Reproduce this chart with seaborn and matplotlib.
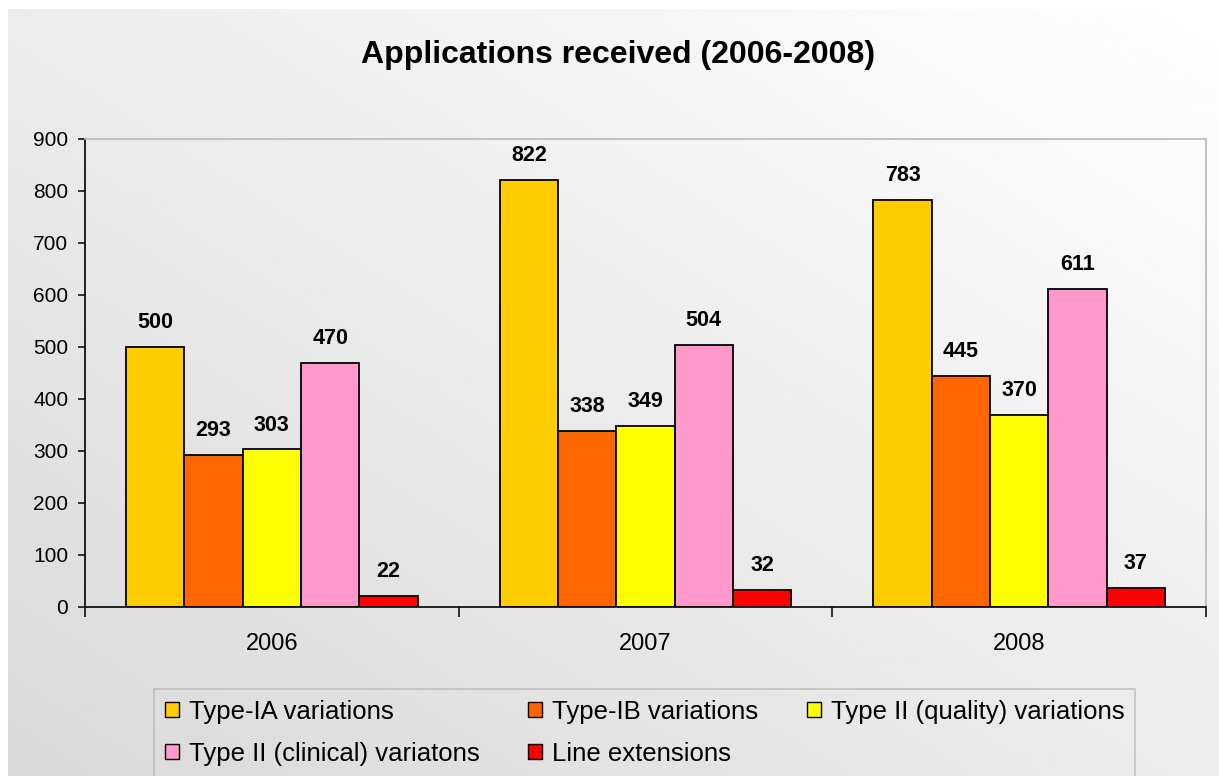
import numpy as np
import pandas as pd
import matplotlib
matplotlib.use("Agg")
import matplotlib.pyplot as plt
from matplotlib.patches import Patch
import seaborn as sns

# Data
years = ["2006", "2007", "2008"]
series = ["Type-IA variations", "Type-IB variations", "Type II (quality) variations",
          "Type II (clinical) variatons", "Line extensions"]
type_ia = [500, 822, 783]
type_ib = [293, 338, 445]
type_ii_quality = [303, 349, 370]
type_ii_clinical = [470, 504, 611]
line_extensions = [22, 32, 37]
colors = ["#FFCC00", "#FF6600", "#FFFF00", "#FF99CC", "#FF0000"]

values = [type_ia, type_ib, type_ii_quality, type_ii_clinical, line_extensions]
rows = [(y, s, v[i]) for s, v in zip(series, values) for i, y in enumerate(years)]
df = pd.DataFrame(rows, columns=["year", "type", "count"])

sns.set_style("ticks")
plt.rcParams["font.family"] = ["Liberation Sans", "DejaVu Sans"]
plt.rcParams["text.color"] = "black"
plt.rcParams["xtick.color"] = "black"
plt.rcParams["ytick.color"] = "black"
plt.rcParams["axes.labelcolor"] = "black"

fig = plt.figure(figsize=(12.19, 7.76), dpi=100, facecolor="white")

# gradient background (white top-right -> grey bottom-left)
bg = fig.add_axes([0, 0, 1, 1], zorder=-10)
gx = np.linspace(0, 1, 400)
gy = np.linspace(0, 1, 300)
GX, GY = np.meshgrid(gx, gy)
shade = 1 - 0.15 * ((1 - GX) + GY) / 2
bg.imshow(shade, cmap="gray", vmin=0, vmax=1, aspect="auto",
          extent=[8 / 1219, 1, 0, 1 - 9 / 776], origin="upper", interpolation="bilinear")
bg.set_xlim(0, 1)
bg.set_ylim(0, 1)
bg.axis("off")

ax = fig.add_axes([85 / 1219, 1 - 607 / 776, (1206 - 85) / 1219, (607 - 139) / 776])
ax.set_facecolor("none")

sns.barplot(data=df, x="year", y="count", hue="type", order=years, hue_order=series,
            palette=colors, width=0.78, edgecolor="black", linewidth=1.3,
            saturation=1, legend=False, ax=ax)

for c in ax.containers:
    ax.bar_label(c, padding=10, fontsize=15.5, fontweight="bold", color="black")

ax.set_ylim(0, 900)
ax.set_yticks(range(0, 901, 100))
ax.set_xlim(-0.5, 2.5)
ax.set_xticks([-0.5, 0.5, 1.5, 2.5], minor=True)
ax.set_xlabel("")
ax.set_ylabel("")
ax.tick_params(axis="x", which="major", length=0, pad=19, labelsize=17)
ax.tick_params(axis="x", which="minor", length=7, width=1.1, color="black")
ax.tick_params(axis="y", length=5, width=1.1, pad=7, labelsize=15, color="black")

for side in ["left", "bottom"]:
    ax.spines[side].set_color("black")
    ax.spines[side].set_linewidth(1.2)
for side in ["top", "right"]:
    ax.spines[side].set_visible(True)
    ax.spines[side].set_color("#b8b8b8")
    ax.spines[side].set_linewidth(1.2)

fig.text(618 / 1219, 1 - 55 / 776, "Applications received (2006-2008)",
         ha="center", va="center", fontsize=23, fontweight="bold", color="black")

# legend, row-major order across 3 columns
handles = [Patch(facecolor=c, edgecolor="black", linewidth=1.0) for c in colors]
order = [0, 3, 1, 4, 2]
leg = fig.legend([handles[i] for i in order], [series[i] for i in order],
                 ncol=3, loc="upper left", mode="expand",
                 bbox_to_anchor=(154 / 1219, 0, (1135 - 154) / 1219, 1 - 689 / 776),
                 borderaxespad=0, fontsize=18.5, handlelength=0.55, handleheight=0.55,
                 handletextpad=0.38, labelspacing=0.7, borderpad=0.42,
                 frameon=True, fancybox=False, edgecolor="#b8b8b8", facecolor="none")
leg.get_frame().set_linewidth(1.2)

fig.savefig("out.png", dpi=100)
